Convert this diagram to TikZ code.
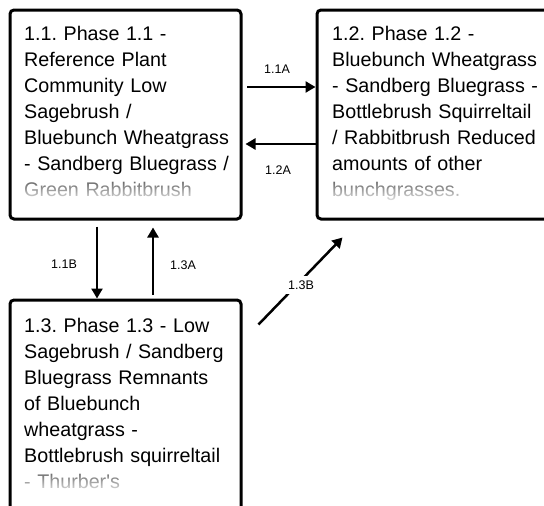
\documentclass[tikz,border=0pt]{standalone}
\usepackage{fontspec}
\setmainfont{Liberation Sans}
\usetikzlibrary{arrows.meta,fadings}
\begin{document}
\frenchspacing
\begin{tikzpicture}[x=1pt,y=-1pt,
  box/.style={draw,line width=3pt,rounded corners=4pt,inner sep=0pt},
  txt/.style={anchor=north west,inner sep=0pt,align=left,text width=240pt,font=\fontsize{19.7}{26}\selectfont\frenchspacing},
  lbl/.style={font=\fontsize{12.5}{14}\selectfont,inner sep=1.5pt},
  arr/.style={line width=2.5pt,-{Triangle[length=10pt,width=11pt]}},
  fadebox/.style={white,path fading=north}]
\useasboundingbox (0,0) rectangle (544,506);
\clip (0,0) rectangle (544,506);
% boxes
\node[box,minimum width=231pt,minimum height=209pt] (b11) at (125.5,114.5) {};
\node[box,minimum width=258pt,minimum height=209pt] (b12) at (446,114.5) {};
\node[box,minimum width=231pt,minimum height=240pt] (b13) at (125.5,420) {};
% texts
\node[txt] (t11) at (24,21.8) {\strut 1.1. Phase 1.1 -\\Reference Plant\\Community Low\\Sagebrush /\\Bluebunch Wheatgrass\\- Sandberg Bluegrass /\\{\color{black!60}Green Rabbitbrush}};
\node[txt] (t12) at (332,21.8) {\strut 1.2. Phase 1.2 -\\Bluebunch Wheatgrass\\- Sandberg Bluegrass -\\Bottlebrush Squirreltail\\/ Rabbitbrush Reduced\\amounts of other\\{\color{black!60}bunchgrasses.}};
\node[txt] (t13) at (24,313.8) {\strut 1.3. Phase 1.3 - Low\\Sagebrush / Sandberg\\Bluegrass Remnants\\of Bluebunch\\wheatgrass -\\Bottlebrush squirreltail\\{\color{black!60}- Thurber\textquotesingle s}};
% fades
\fill[fadebox] (12,181) rectangle (239,205);
\fill[fadebox] (319,181) rectangle (544,205);
\fill[fadebox] (12,472) rectangle (239,496);
% arrows
\draw[arr,shorten <=4.5pt] (b11.east |- 0,87) -- (b12.west |- 0,87);
\draw[arr,shorten >=3pt] (b12.west |- 0,144) -- (b11.east |- 0,144);
\draw[arr,shorten <=6pt] (b11.south -| 97,0) -- (b13.north -| 97,0);
\draw[arr,shorten <=4pt,shorten >=7pt] (b13.north -| 153,0) -- (b11.south -| 153,0);
\draw[arr] ([xshift=16pt,yshift=-26pt]b13.north east) -- ([xshift=27pt,yshift=-17pt]b12.south west);
% labels
\node[lbl] (l11a) at (277,69) {1.1A};
\node[lbl] (l12a) at (278,170) {1.2A};
\node[lbl] (l11b) at (64,264) {1.1B};
\node[lbl] (l13a) at (183,265) {1.3A};
\node[lbl,fill=white,inner xsep=2pt,inner ysep=5pt] (l13b) at (301,285) {1.3B};
\end{tikzpicture}
\end{document}
